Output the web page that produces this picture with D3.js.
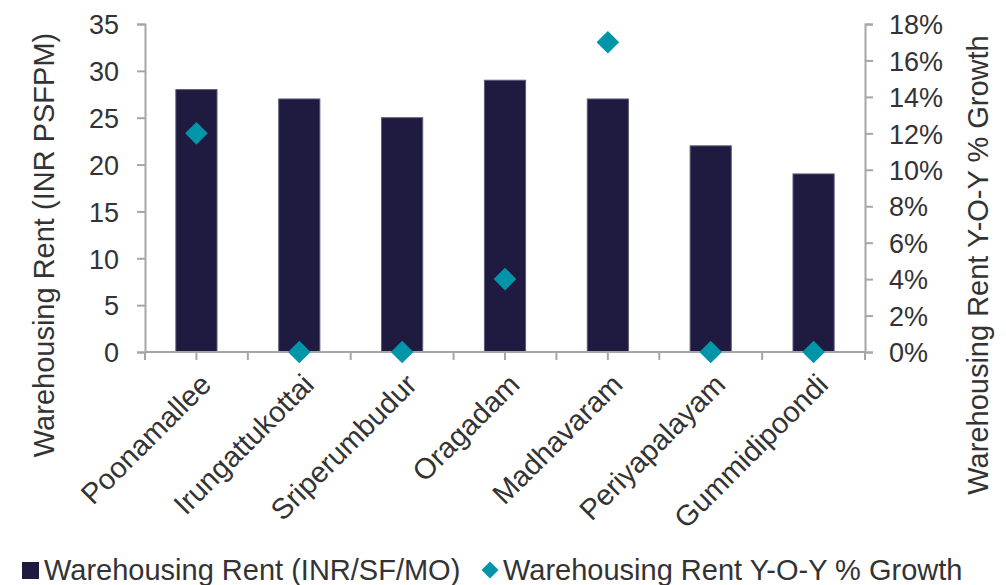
<!DOCTYPE html>
<html>
<head>
<meta charset="utf-8">
<script src="https://cdn.jsdelivr.net/npm/d3@7"></script>
<style>
  body { margin: 0; background: #fff; }
  text { font-family: "Liberation Sans", Arial, sans-serif; fill: #333; }
</style>
</head>
<body>
<div id="chart"></div>
<script>
// chart data
const locations = ["Poonamallee", "Irungattukottai", "Sriperumbudur", "Oragadam", "Madhavaram", "Periyapalayam", "Gummidipoondi"];
const rent = [28, 27, 25, 29, 27, 22, 19];
const growth = [0.12, 0, 0, 0.04, 0.17, 0, 0];
const rentTicks = [0, 5, 10, 15, 20, 25, 30, 35];
const growthTicks = [0, 0.02, 0.04, 0.06, 0.08, 0.10, 0.12, 0.14, 0.16, 0.18];

const width = 1006, height = 585;
const margin = { top: 24, right: 141, bottom: 233, left: 145 };
const barColor = "#1f1a40", dotColor = "#0095a9", axisColor = "#a6a6a6";

const svg = d3.select("#chart").append("svg")
  .attr("width", width)
  .attr("height", height);

const x = d3.scaleBand()
  .domain(locations)
  .range([margin.left, width - margin.right])
  .paddingInner(0.6)
  .paddingOuter(0.3);

const step = x.step();
const x0 = margin.left;

const yL = d3.scaleLinear().domain([0, 35]).range([height - margin.bottom, margin.top]);
const yR = d3.scaleLinear().domain([0, 0.18]).range([height - margin.bottom, margin.top]);

// bars
svg.append("g")
  .selectAll("rect")
  .data(locations)
  .join("rect")
  .attr("x", d => x(d))
  .attr("y", (d, i) => yL(rent[i]))
  .attr("width", x.bandwidth())
  .attr("height", (d, i) => yL(0) - yL(rent[i]))
  .attr("fill", barColor)
  .attr("stroke", "#5c587a")
  .attr("stroke-width", 1);

// left axis
const left = svg.append("g")
  .attr("transform", `translate(${margin.left},0)`)
  .call(d3.axisLeft(yL).tickValues(rentTicks).tickSize(8).tickPadding(18));
left.select(".domain").attr("stroke", axisColor).attr("stroke-width", 2);
left.selectAll(".tick line").attr("stroke", axisColor).attr("stroke-width", 2);
left.selectAll("text").style("font-size", "27px").attr("dy", "0.36em");

// right axis
const right = svg.append("g")
  .attr("transform", `translate(${width - margin.right},0)`)
  .call(d3.axisRight(yR).tickValues(growthTicks).tickSize(8).tickPadding(16).tickFormat(d3.format(".0%")));
right.select(".domain").attr("stroke", axisColor).attr("stroke-width", 2);
right.selectAll(".tick line").attr("stroke", axisColor).attr("stroke-width", 2);
right.selectAll("text").style("font-size", "27px").attr("dy", "0.36em");

// bottom axis line with ticks at every half step
const baseY = yL(0);
svg.append("line")
  .attr("x1", margin.left).attr("x2", width - margin.right)
  .attr("y1", baseY).attr("y2", baseY)
  .attr("stroke", axisColor).attr("stroke-width", 2);
svg.append("g")
  .selectAll("line")
  .data(d3.range(0, locations.length * 2 + 1))
  .join("line")
  .attr("x1", d => x0 + d * step / 2)
  .attr("x2", d => x0 + d * step / 2)
  .attr("y1", baseY).attr("y2", baseY + 8)
  .attr("stroke", axisColor).attr("stroke-width", 2);

// category labels
svg.append("g")
  .selectAll("text")
  .data(locations)
  .join("text")
  .attr("transform", d => `translate(${x(d) + x.bandwidth() / 2 + 2},${baseY + 20}) rotate(-45)`)
  .attr("text-anchor", "end")
  .attr("dy", "0.7em")
  .style("font-size", "29px")
  .text(d => d);

// growth diamonds
svg.append("g")
  .selectAll("path")
  .data(locations)
  .join("path")
  .attr("transform", (d, i) => `translate(${x(d) + x.bandwidth() / 2},${yR(growth[i])}) rotate(45)`)
  .attr("d", "M-8,-8H8V8H-8Z")
  .attr("fill", dotColor);

// axis titles
svg.append("text")
  .attr("transform", `translate(54,${(margin.top + baseY) / 2 + 57}) rotate(-90)`)
  .attr("text-anchor", "middle")
  .style("font-size", "29px")
  .text("Warehousing Rent (INR PSFPM)");

svg.append("text")
  .attr("transform", `translate(988,${(margin.top + baseY) / 2 + 77}) rotate(-90)`)
  .attr("text-anchor", "middle")
  .style("font-size", "29px")
  .text("Warehousing Rent Y-O-Y % Growth");

// legend
const legend = svg.append("g");
legend.append("rect")
  .attr("x", 22).attr("y", 562).attr("width", 17).attr("height", 17)
  .attr("fill", barColor);
legend.append("text")
  .attr("x", 44).attr("y", 580)
  .style("font-size", "29px")
  .text("Warehousing Rent (INR/SF/MO)");
legend.append("path")
  .attr("transform", "translate(490,570) rotate(45)")
  .attr("d", "M-6,-6H6V6H-6Z")
  .attr("fill", dotColor);
legend.append("text")
  .attr("x", 503).attr("y", 580)
  .style("font-size", "29px")
  .text("Warehousing Rent Y-O-Y % Growth");
</script>
</body>
</html>
